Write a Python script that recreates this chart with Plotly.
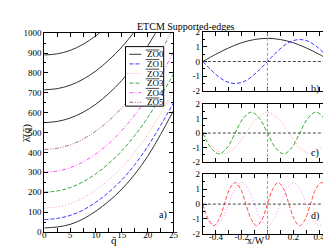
import plotly.graph_objects as go

# ---------------- data ----------------
Q = [0, 2.5, 5, 7.5, 10, 12.5, 15, 17.5, 20, 22.5, 25]
ZO0 = [20, 25, 38, 65, 105, 155, 215, 290, 380, 490, 610]
ZO1 = [62, 68, 83, 110, 150, 200, 262, 338, 430, 535, 650]
ZO2 = [120, 126, 142, 170, 212, 262, 325, 400, 490, 595, 710]
ZO3 = [200, 206, 223, 252, 293, 345, 408, 485, 575, 680, 795]
ZO4 = [300, 306, 323, 352, 393, 445, 510, 588, 680, 785, 905]
ZO5 = [415, 421, 438, 467, 508, 560, 625, 705, 797, 905, 1025]
ZO6 = [550, 556, 573, 602, 643, 697, 762, 842, 935, 1045, 1160]
ZO7 = [715, 721, 738, 768, 810, 865, 930, 1010, 1100, 1210, 1330]
ZO8 = [890, 896, 913, 944, 987, 1042, 1110, 1190, 1280, 1390, 1510]

# mode shapes
X_b0 = [-0.5, -0.4, -0.3, -0.2, -0.1, 0.0, 0.1, 0.2, 0.3, 0.4, 0.5]
M_b0 = [0, 0.49, 0.93, 1.28, 1.50, 1.58, 1.50, 1.28, 0.93, 0.49, 0]
X_b1 = [-0.5, -0.4375, -0.375, -0.3125, -0.25, -0.1875, -0.125, -0.0625, 0.0,
        0.0625, 0.125, 0.1875, 0.25, 0.3125, 0.375, 0.4375, 0.5]
M_b1 = [0, -0.57, -1.06, -1.39, -1.50, -1.39, -1.06, -0.57, 0,
        0.57, 1.06, 1.39, 1.50, 1.39, 1.06, 0.57, 0]
X_c2 = [-0.5, -0.4167, -0.3333, -0.25, -0.1667, -0.0833, 0.0,
        0.0833, 0.1667, 0.25, 0.3333, 0.4167, 0.5]
M_c2 = [0, -1.01, -1.43, -1.01, 0, 1.01, 1.43, 1.01, 0, -1.01, -1.43, -1.01, 0]
X_c3 = X_b1
M_c3 = [0, -1.03, -1.45, -1.03, 0, 1.03, 1.45, 1.03, 0,
        -1.03, -1.45, -1.03, 0, 1.03, 1.45, 1.03, 0]
X_d4 = [-0.5, -0.45, -0.4, -0.35, -0.3, -0.25, -0.2, -0.15, -0.1, -0.05, 0.0,
        0.05, 0.1, 0.15, 0.2, 0.25, 0.3, 0.35, 0.4, 0.45, 0.5]
M_d4 = [0, -1.03, -1.45, -1.03, 0, 1.03, 1.45, 1.03, 0, -1.03, -1.45,
        -1.03, 0, 1.03, 1.45, 1.03, 0, -1.03, -1.45, -1.03, 0]
X_d5 = [-0.5, -0.4583, -0.4167, -0.375, -0.3333, -0.2917, -0.25, -0.2083, -0.1667,
        -0.125, -0.0833, -0.0417, 0.0, 0.0417, 0.0833, 0.125, 0.1667, 0.2083,
        0.25, 0.2917, 0.3333, 0.375, 0.4167, 0.4583, 0.5]
M_d5 = [0, -1.03, -1.45, -1.03, 0, 1.03, 1.45, 1.03, 0, -1.03, -1.45, -1.03, 0,
        1.03, 1.45, 1.03, 0, -1.03, -1.45, -1.03, 0, 1.03, 1.45, 1.03, 0]

LEG = ["ZO0", "ZO1", "ZO2", "ZO3", "ZO4", "ZO5"]
XTICKS_R = [-0.4, -0.2, 0, 0.2, 0.4]
XTICKTEXT_R = ["-0.4", "-0.2", "0", "0.2", "0.4"]
YTICKS_R = [-2, -1, 0, 1, 2]
YTICKTEXT_R = ["-2", "-1", "0", "1", "2"]

# ---------------- styling ----------------
FONT = "Liberation Serif, Times New Roman, serif"
C_BLACK = "#333333"
C_BLUE = "#3a3aff"
C_SALMON = "#ff9a9a"
C_GREEN = "#3aa83a"
C_MAG = "#ff4cff"
C_PURP = "#a06a94"
C_RED = "#ff4f4f"
C_VIO = "#ff88ff"
D_DASH = "4px,2px"
D_DOT = "1px,2px"
D_DASHDOT = "4px,2px,1px,2px"
D_ZO5 = "4px,1.5px,1px,1.5px,1px,1.5px"

fig = go.Figure()

def ln(color, dash="solid", w=1.0):
    return dict(color=color, dash=dash, width=w, shape="spline")

left = [
    (ZO0, C_BLACK, "solid"),
    (ZO1, C_BLUE, D_DASH),
    (ZO2, C_SALMON, D_DOT),
    (ZO3, C_GREEN, D_DASH),
    (ZO4, C_MAG, D_DASHDOT),
    (ZO5, C_PURP, D_ZO5),
    (ZO6, C_BLACK, "solid"),
    (ZO7, C_BLACK, "solid"),
    (ZO8, C_BLACK, "solid"),
]
for ys, col, dash in left:
    fig.add_trace(go.Scatter(x=Q, y=ys, mode="lines", showlegend=False,
                             line=ln(col, dash), xaxis="x", yaxis="y"))

fig.add_trace(go.Scatter(x=X_b0, y=M_b0, mode="lines", showlegend=False,
                         line=ln(C_BLACK), xaxis="x2", yaxis="y2"))
fig.add_trace(go.Scatter(x=X_b1, y=M_b1, mode="lines", showlegend=False,
                         line=ln(C_BLUE, D_DASH), xaxis="x2", yaxis="y2"))
fig.add_trace(go.Scatter(x=X_c2, y=M_c2, mode="lines", showlegend=False,
                         line=ln(C_SALMON, D_DOT), xaxis="x3", yaxis="y3"))
fig.add_trace(go.Scatter(x=X_c3, y=M_c3, mode="lines", showlegend=False,
                         line=ln(C_GREEN, D_DASH), xaxis="x3", yaxis="y3"))
fig.add_trace(go.Scatter(x=X_d4, y=M_d4, mode="lines", showlegend=False,
                         line=ln(C_VIO, D_DOT), xaxis="x4", yaxis="y4"))
fig.add_trace(go.Scatter(x=X_d5, y=M_d5, mode="lines", showlegend=False,
                         line=ln(C_RED, D_DASH), xaxis="x4", yaxis="y4"))

W, H = 331, 252
def px(v): return v / W
def py(v): return 1 - v / H

axbase = dict(showgrid=False, zeroline=False, showline=True, linecolor="black",
              linewidth=1, mirror="ticks", ticks="inside", ticklen=4, tickcolor="black",
              tickfont=dict(family=FONT, size=9, color="black"))

fig.update_layout(
    width=W, height=H, margin=dict(l=0, r=0, t=0, b=0),
    paper_bgcolor="white", plot_bgcolor="white",
    font=dict(family=FONT, size=9, color="black"),
    showlegend=False,
    xaxis=dict(axbase, domain=[px(35), px(167)], range=[0, 25], dtick=5,
               ticklabelstandoff=-6,
               minor=dict(ticks="inside", ticklen=4, dtick=2.5, tickcolor="black"),
               anchor="y"),
    yaxis=dict(axbase, domain=[py(228), py(21)], range=[0, 1000], dtick=100,
               minor=dict(ticks="inside", ticklen=2, dtick=50, tickcolor="black"),
               anchor="x"),
)

panels = [("x2", "y2", 20, 81, False), ("x3", "y3", 95, 155, False),
          ("x4", "y4", 168, 230, True)]
for i, (xa, ya, top, bot, lab) in enumerate(panels):
    k = i + 2
    fig.layout[f"xaxis{k}"] = dict(axbase, domain=[px(197), px(329)], range=[-0.5, 0.5],
                                  tickvals=XTICKS_R, ticktext=XTICKTEXT_R,
                                  showticklabels=lab, ticklabelstandoff=-6,
                                  minor=dict(ticks="inside", ticklen=4, dtick=0.1,
                                             tickcolor="black"),
                                  anchor=ya)
    fig.layout[f"yaxis{k}"] = dict(axbase, domain=[py(bot), py(top)], range=[-2, 2],
                                  tickvals=YTICKS_R, ticktext=YTICKTEXT_R,
                                  minor=dict(ticks="inside", ticklen=2,
                                             dtick=0.5, tickcolor="black"),
                                  anchor=xa)
    fig.add_shape(type="line", xref=xa, yref=ya, x0=-0.5, x1=0.5, y0=0, y1=0,
                  line=dict(color="#444444", width=1, dash="3px,2px"))
    fig.add_shape(type="line", xref=xa, yref=ya, x0=0, x1=0, y0=-2, y1=2,
                  line=dict(color="#999999", width=1, dash="3px,2px"))

# ---- compact legend (box, samples, labels) ----
LX0, LX1, LY0, LY1 = 118, 157, 35, 97
fig.add_shape(type="rect", xref="paper", yref="paper", x0=px(LX0), x1=px(LX1),
              y0=py(LY1), y1=py(LY0), fillcolor="white",
              line=dict(color="black", width=1), layer="above")
leg_styles = [(C_BLACK, "solid"), (C_BLUE, D_DASH), (C_SALMON, D_DOT),
              (C_GREEN, D_DASH), (C_MAG, D_DASHDOT), (C_PURP, D_ZO5)]
for i, (name, (col, dash)) in enumerate(zip(LEG, leg_styles)):
    yc = 43 + 10 * i
    fig.add_shape(type="line", xref="paper", yref="paper", x0=px(122), x1=px(134),
                  y0=py(yc), y1=py(yc), line=dict(color=col, width=1, dash=dash),
                  layer="above")
    fig.add_annotation(text=name, x=px(138), y=py(yc), xref="paper", yref="paper",
                       xanchor="left", yanchor="middle", showarrow=False,
                       font=dict(family=FONT, size=9, color="black"))
    fig.add_shape(type="line", xref="paper", yref="paper", x0=px(138.5), x1=px(152.5),
                  y0=py(yc - 4.5), y1=py(yc - 4.5),
                  line=dict(color="black", width=0.7), layer="above")

ann = [
    dict(text="ETCM Supported-edges", x=px(180), y=py(6), size=10),
    dict(text="q\u0304", x=px(101), y=py(245), size=11),
    dict(text="x/W", x=px(263), y=py(245), size=10),
    dict(text="a)", x=px(156), y=py(219), size=10),
    dict(text="b)", x=px(318), y=py(71), size=10),
    dict(text="c)", x=px(318), y=py(146), size=10),
    dict(text="d)", x=px(318), y=py(220), size=10),
]
for a in ann:
    fig.add_annotation(text=a["text"], x=a["x"], y=a["y"], xref="paper", yref="paper",
                       showarrow=False, font=dict(family=FONT, size=a["size"], color="black"))
fig.add_annotation(text="\u03bb\u0304(q\u0304)", x=px(8), y=py(125), xref="paper", yref="paper",
                   showarrow=False, textangle=-90,
                   font=dict(family=FONT, size=11, color="black"))

fig.write_html("out.html")
